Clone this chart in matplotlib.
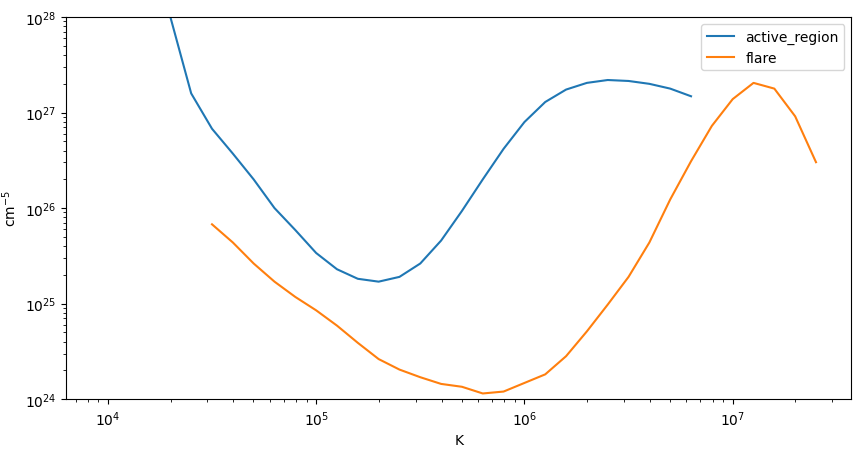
import numpy as np
import matplotlib
matplotlib.use("Agg")
import matplotlib.pyplot as plt

ar_logT = [4.2,4.3,4.4,4.5,4.6,4.7,4.8,4.9,5.0,5.1,5.2,5.3,5.4,5.5,5.6,5.7,5.8,5.9,6.0,6.1,6.2,6.3,6.4,6.5,6.6,6.7,6.8]
ar_logEM = [28.9,28.0,27.2,26.83,26.57,26.3,26.0,25.77,25.53,25.36,25.26,25.23,25.28,25.42,25.66,25.97,26.3,26.62,26.9,27.11,27.24,27.31,27.34,27.33,27.30,27.25,27.17]
fl_logT = [4.5,4.6,4.7,4.8,4.9,5.0,5.1,5.2,5.3,5.4,5.5,5.6,5.7,5.8,5.9,6.0,6.1,6.2,6.3,6.4,6.5,6.6,6.7,6.8,6.9,7.0,7.1,7.2,7.3,7.4]
fl_logEM = [25.83,25.64,25.42,25.23,25.07,24.93,24.77,24.59,24.42,24.31,24.23,24.16,24.13,24.06,24.08,24.17,24.26,24.45,24.71,24.99,25.28,25.64,26.09,26.49,26.86,27.14,27.31,27.25,26.96,26.48]

fig = plt.figure(figsize=(8.6, 4.6), dpi=100)
ax = fig.add_axes([0.077, 0.13, 0.913, 0.831])
ax.plot(10**np.array(ar_logT), 10**np.array(ar_logEM), label="active_region")
ax.plot(10**np.array(fl_logT), 10**np.array(fl_logEM), label="flare")
ax.set_xscale("log"); ax.set_yscale("log")
ax.set_xlim(10**3.80, 10**7.57)
ax.set_ylim(1e24, 1e28)
ax.set_xlabel("K")
ax.set_ylabel("cm$^{-5}$")
ax.legend(loc="upper right")
fig.savefig("out.png")
